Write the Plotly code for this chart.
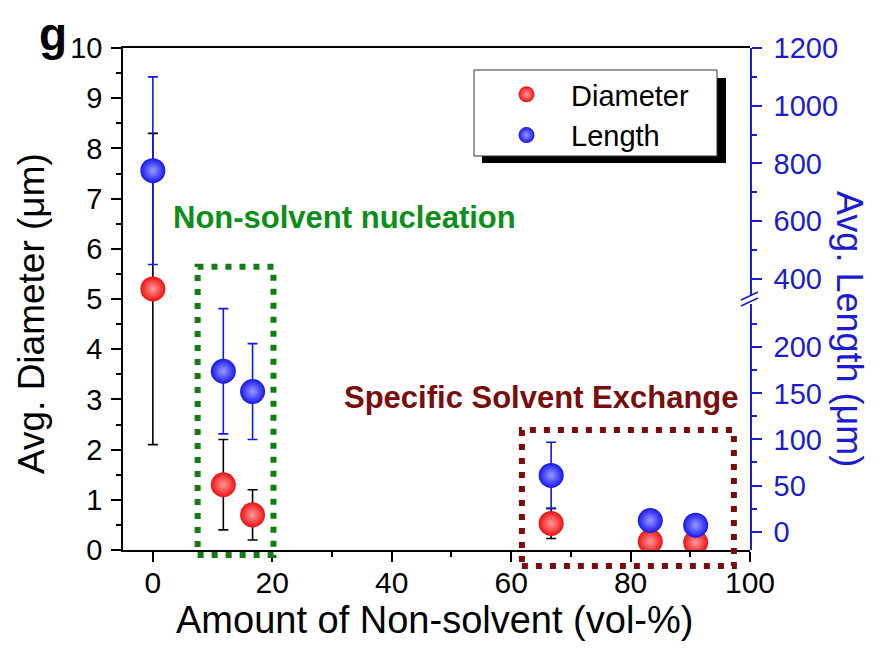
import plotly.graph_objects as go

# ---------------- data ----------------
nonsolvent_pct = [0, 11.8, 16.7, 66.7, 83.3, 90.9]
diameter_um = [5.2, 1.3, 0.7, 0.53, 0.17, 0.15]
diameter_err = [3.1, 0.9, 0.5, 0.3, 0.1, 0.1]
length_um = [775, 174, 152, 61, 12, 7]
length_err = [325, 68, 52, 36, 5, 5]

x_ticks = [0, 20, 40, 60, 80, 100]
left_ticks = [0, 1, 2, 3, 4, 5, 6, 7, 8, 9, 10]
right_low_ticks = [0, 50, 100, 150, 200]
right_high_ticks = [400, 600, 800, 1000, 1200]
LENGTH_BREAK = 300  # values above this sit on the upper part of the broken axis

# ---------------- styling ----------------
FONT = "Liberation Sans, Arial, sans-serif"
BLUE_AX = "#1c1cd2"
RED = "#ee1010"
BLUE = "#1616ee"
GREEN_TXT = "#0b8f18"
GREEN_BOX = "#137d13"
DARKRED = "#7a0c0c"

X_RANGE = [-5, 100]
Y_RANGE = [0, 10]
OFF = 8                      # page body margin
W, H = 865, 635
L, T = 115, 40
PW, PH = 627, 502
R, B = W - L - PW, H - T - PH


def xp(x):
    return (x - X_RANGE[0]) / (X_RANGE[1] - X_RANGE[0])


def yp(y):
    return (y - Y_RANGE[0]) / (Y_RANGE[1] - Y_RANGE[0])


def pxx(px):  # page pixel -> paper
    return (px - OFF - L) / PW


def pxy(py):
    return (T + PH - (py - OFF)) / PH


low = [(x, v, e) for x, v, e in zip(nonsolvent_pct, length_um, length_err) if v < LENGTH_BREAK]
high = [(x, v, e) for x, v, e in zip(nonsolvent_pct, length_um, length_err) if v >= LENGTH_BREAK]

red_marker = dict(size=25, color=RED, gradient=dict(type="radial", color="#ff9a9a"), line=dict(width=0))
blue_marker = dict(size=25, color=BLUE, gradient=dict(type="radial", color="#9a9aff"), line=dict(width=0))

fig = go.Figure()

fig.add_trace(go.Scatter(
    x=nonsolvent_pct, y=diameter_um, mode="markers", name="Diameter",
    yaxis="y", marker=red_marker,
    error_y=dict(type="data", array=diameter_err, color="black", thickness=1.6, width=5),
))

fig.add_trace(go.Scatter(
    x=[p[0] for p in low], y=[p[1] for p in low], mode="markers", name="Length",
    yaxis="y2", legendgroup="l", marker=blue_marker,
    error_y=dict(type="data", array=[p[2] for p in low], color=BLUE, thickness=1.6, width=5),
))

fig.add_trace(go.Scatter(
    x=[p[0] for p in high], y=[p[1] for p in high], mode="markers", name="Length",
    yaxis="y3", legendgroup="l", showlegend=False, marker=blue_marker,
    error_y=dict(type="data", array=[p[2] for p in high], color=BLUE, thickness=1.6, width=5),
))

tickfont_k = dict(family=FONT, size=29, color="black")
tickfont_b = dict(family=FONT, size=29, color=BLUE_AX)


def right_axis(rng, dom, vals, minor_dtick):
    return dict(
        range=rng, domain=dom, anchor="x", side="right",
        tickvals=vals, ticktext=[str(v) for v in vals],
        ticks="outside", ticklen=10, tickwidth=1.5, tickcolor=BLUE_AX,
        showline=True, linecolor=BLUE_AX, linewidth=1.5,
        showgrid=False, zeroline=False, tickfont=tickfont_b,
        ticklabelstandoff=6,
        minor=dict(dtick=minor_dtick, tick0=0, ticks="outside", ticklen=5, tickwidth=1.5,
                   tickcolor=BLUE_AX, showgrid=False),
    )


fig.update_layout(
    width=W, height=H,
    margin=dict(l=L, r=R, t=T, b=B, pad=0, autoexpand=False),
    plot_bgcolor="rgba(0,0,0,0)", paper_bgcolor="white",
    showlegend=True,
    xaxis=dict(
        range=X_RANGE, domain=[0, 1], anchor="y",
        tickvals=x_ticks, ticktext=[str(v) for v in x_ticks],
        ticks="outside", ticklen=10, tickwidth=1.5, tickcolor="black",
        showline=True, linecolor="black", linewidth=1.5, mirror=True,
        showgrid=False, zeroline=False, ticklabelstandoff=-5,
        tickfont=dict(family=FONT, size=30, color="black"),
        minor=dict(dtick=10, tick0=0, ticks="outside", ticklen=5, tickwidth=1.5,
                   tickcolor="black", showgrid=False),
    ),
    yaxis=dict(
        range=Y_RANGE, domain=[0, 1], anchor="x",
        tickvals=left_ticks, ticktext=[str(v) for v in left_ticks],
        ticks="outside", ticklen=10, tickwidth=1.5, tickcolor="black",
        showline=True, linecolor="black", linewidth=1.5,
        showgrid=False, zeroline=False, tickfont=tickfont_k,
        ticklabelstandoff=3,
        minor=dict(dtick=0.5, tick0=0, ticks="outside", ticklen=5, tickwidth=1.5,
                   tickcolor="black", showgrid=False),
    ),
    yaxis2=right_axis([-20, 247], [0, 0.49], right_low_ticks, 25),
    yaxis3=right_axis([339, 1200], [0.505, 1], right_high_ticks, 100),
    legend=dict(
        x=pxx(482), y=pxy(69), xanchor="left", yanchor="top",
        bgcolor="rgba(0,0,0,0)", borderwidth=0,
        font=dict(family=FONT, size=29, color="black"),
        itemwidth=79, tracegroupgap=0, itemsizing="trace",
    ),
)

shapes = []
# legend shadow + box
shapes.append(dict(type="rect", xref="paper", yref="paper", layer="above",
                   x0=pxx(482), x1=pxx(726), y0=pxy(163), y1=pxy(78),
                   fillcolor="black", line=dict(width=0)))
shapes.append(dict(type="rect", xref="paper", yref="paper", layer="above",
                   x0=pxx(474), x1=pxx(717), y0=pxy(156), y1=pxy(70),
                   fillcolor="white", line=dict(color="#333333", width=1)))
# dotted highlight boxes
shapes.append(dict(type="rect", xref="paper", yref="paper", layer="above",
                   x0=xp(7.5), x1=xp(20.2), y0=yp(-0.1), y1=yp(5.64),
                   line=dict(color=GREEN_BOX, width=6, dash="6px,8px")))
shapes.append(dict(type="rect", xref="paper", yref="paper", layer="above",
                   x0=xp(61.8), x1=xp(97.3), y0=yp(-0.32), y1=yp(2.39),
                   line=dict(color=DARKRED, width=6, dash="6px,8px")))
# axis break marks
for dy in (0, 6):
    shapes.append(dict(type="line", xref="paper", yref="paper", layer="above",
                       x0=pxx(741), y0=pxy(306 - dy), x1=pxx(758), y1=pxy(298 - dy),
                       line=dict(color=BLUE_AX, width=1.5)))
fig.update_layout(shapes=shapes)


def ann(text, px, py, size, color, angle=0):
    return dict(text=text, x=pxx(px), y=pxy(py), xref="paper", yref="paper",
                xanchor="center", yanchor="middle", showarrow=False, textangle=angle,
                font=dict(family=FONT, size=size, color=color))


annotations = [
    ann("<b>g</b>", 53, 34, 46, "black"),
    ann("<b>Non-solvent nucleation</b>", 344, 217, 31, GREEN_TXT),
    ann("<b>Specific Solvent Exchange</b>", 541, 397, 31, DARKRED),
    ann("Avg. Diameter (μm)", 31, 314, 37, "black", -90),
    ann("Avg. Length (μm)", 850, 329, 36, BLUE_AX, 90),
    ann("Amount of Non-solvent (vol-%)", 434, 620, 38, "black"),
]
fig.update_layout(annotations=annotations)

fig.write_html("out.html")
